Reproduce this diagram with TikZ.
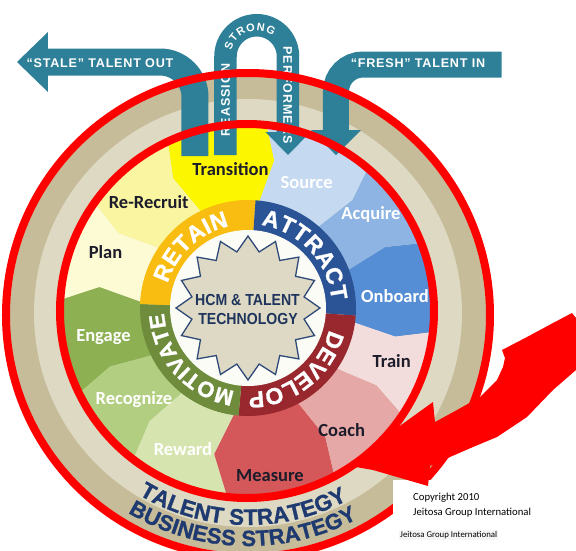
\documentclass[tikz,border=0pt]{standalone}
\usepackage{fontspec}
\setmainfont{Carlito}
\newfontfamily\plainsans{Liberation Sans}
\newfontfamily\heavysans{Liberation Sans Bold}[FakeBold=1.2]
\newfontfamily\widesans{Liberation Sans}[LetterSpace=6]
\newfontfamily\legsans{Liberation Sans}[LetterSpace=8]
\newfontfamily\narrowsans{Liberation Sans}[FakeStretch=0.88]
\usetikzlibrary{arrows.meta,shapes.geometric,decorations.text}

\definecolor{tandark}{RGB}{198,188,153}
\definecolor{tanlight}{RGB}{222,217,195}
\definecolor{navyband}{RGB}{30,58,112}
\definecolor{flowteal}{RGB}{46,128,152}
\definecolor{alarm}{RGB}{255,0,0}
\definecolor{inkdark}{RGB}{28,28,42}
\definecolor{corewhite}{RGB}{252,252,247}
\definecolor{starfill}{RGB}{221,217,196}
\definecolor{starline}{RGB}{47,74,120}
\definecolor{hubnavy}{RGB}{31,52,92}
\definecolor{retaincol}{RGB}{248,189,16}
\definecolor{attractcol}{RGB}{43,84,150}
\definecolor{developcol}{RGB}{152,40,46}
\definecolor{motivatecol}{RGB}{110,140,60}
\definecolor{transitioncol}{RGB}{252,246,0}
\definecolor{rerecruitcol}{RGB}{249,245,160}
\definecolor{plancol}{RGB}{253,251,212}
\definecolor{sourcecol}{RGB}{197,217,241}
\definecolor{acquirecol}{RGB}{141,180,226}
\definecolor{onboardcol}{RGB}{85,142,213}
\definecolor{traincol}{RGB}{242,221,220}
\definecolor{coachcol}{RGB}{230,168,166}
\definecolor{measurecol}{RGB}{212,88,90}
\definecolor{engagecol}{RGB}{140,176,82}
\definecolor{recognizecol}{RGB}{178,206,128}
\definecolor{rewardcol}{RGB}{214,229,176}

\begin{document}
\begin{tikzpicture}[x=1pt, y=1pt,
    petaltext/.style={font=\fontsize{18.5}{20}\selectfont\bfseries, text height=13pt, text depth=0pt, inner sep=0pt},
    darklabel/.style={petaltext, text=inkdark},
    lightlabel/.style={petaltext, text=white},
    hubtext/.style={font=\narrowsans\bfseries\fontsize{16}{16}\selectfont, text=hubnavy, text height=11.5pt, text depth=0pt, inner sep=0pt},
    flow/.style={draw=flowteal, line cap=butt},
    flowtext/.style={font=\widesans\bfseries\fontsize{12.6}{13}\selectfont, text=white, text height=9pt, text depth=0pt, inner sep=0pt},
    legtext/.style={font=\legsans\bfseries\fontsize{12.5}{12.5}\selectfont, text=white, text height=9pt, text depth=0pt, inner sep=0pt},
    redring/.style={draw=alarm, line width=8pt}]
    \useasboundingbox (-248,-240) rectangle (328,310);
    \fill[white] (-248,-240) rectangle (328,310);

    % centres of the wheel and of the rings round it
    \coordinate (hub) at (0,2);
    \coordinate (band) at (0,-3);
    \coordinate (rimin) at (-1,-1);
    \coordinate (rimout) at (0,-5);

    % Strategy bands
    \fill[tandark] (band) circle[radius=240];
    \fill[tanlight] (band) circle[radius=214];
    \begin{scope}[shift={(band)}]
        \path[decorate, decoration={text along path, text align={fit to path},
            text={|\heavysans\fontsize{22.5}{22}\selectfont\color{navyband}|TALENT STRATEGY}}]
            (-121:212) arc[start angle=-121, end angle=-62, radius=212];
        \path[decorate, decoration={text along path, text align={fit to path},
            text={|\heavysans\fontsize{22}{22}\selectfont\color{navyband}|BUSINESS STRATEGY}}]
            (-121:233) arc[start angle=-121, end angle=-62, radius=233];
    \end{scope}

    % Petals of the wheel
    \begin{scope}
        \clip (rimin) circle[radius=187];
        \begin{scope}[shift={(hub)}]
            \foreach \a/\b/\da/\db/\col in {-7/20/-4/4/onboardcol, 20/50/4/-4/acquirecol,
                50/85/-4/-5/sourcecol, 85/115/-5/5/transitioncol, 115/145/5/5/rerecruitcol,
                145/178/5/-6/plancol, 178/207/-6/-4/engagecol, 207/233/-4/-4/recognizecol,
                233/264/-4/-7/rewardcol, 264/297/-7/4/measurecol, 297/325/4/4/coachcol,
                325/353/4/-4/traincol}
                \fill[\col] (\a:100) -- (\a+\da:150) -- (\a:192)
                    arc[start angle=\a, end angle=\b, radius=192] -- (\b+\db:150) -- (\b:100) -- cycle;
        \end{scope}
    \end{scope}

    % Four stages round the core
    \begin{scope}[shift={(hub)}]
        \fill[retaincol] (0,0) -- (86:108) arc[start angle=86, end angle=178, radius=108] -- cycle;
        \fill[attractcol] (0,0) -- (-4:108) arc[start angle=-4, end angle=86, radius=108] -- cycle;
        \fill[developcol] (0,0) -- (-95:108) arc[start angle=-95, end angle=-4, radius=108] -- cycle;
        \fill[motivatecol] (0,0) -- (178:108) arc[start angle=178, end angle=265, radius=108] -- cycle;
        \fill[corewhite] (0,0) circle[radius=78];
        \path[decorate, decoration={text along path, text align={fit to path},
            text={|\heavysans\fontsize{23}{23}\selectfont\color{white}|RETAIN}}]
            (163:84) arc[start angle=163, end angle=103, radius=84];
        \path[decorate, decoration={text along path, text align={fit to path},
            text={|\heavysans\fontsize{23}{23}\selectfont\color{white}|ATTRACT}}]
            (81:84) arc[start angle=81, end angle=5, radius=84];
        \path[decorate, decoration={text along path, text align={fit to path},
            text={|\heavysans\fontsize{23}{23}\selectfont\color{white}|DEVELOP}}]
            (-15:84) arc[start angle=-15, end angle=-85, radius=84];
        \path[decorate, decoration={text along path, text align={fit to path},
            text={|\heavysans\fontsize{22}{22}\selectfont\color{white}|MOTIVATE}}]
            (-99:84) arc[start angle=-99, end angle=-174, radius=84];
    \end{scope}

    % Core
    \node[star, star points=16, star point ratio=1.26, minimum size=144pt, inner sep=0pt,
        draw=starline, fill=starfill, line width=1.3pt] (core) at (hub) {};
    \node[hubtext] (hcm) at (-0.5,10) {HCM \& TALENT};
    \node[hubtext] (tech) at (0,-8.3) {TECHNOLOGY};

    % Steps of each stage
    \node[darklabel] (transition) at (-17.5,141) {Transition};
    \node[darklabel] (rerecruit) at (-99.3,108.3) {Re-Recruit};
    \node[darklabel] (plan) at (-142.5,58.3) {Plan};
    \node[lightlabel] (source) at (58.7,128.3) {Source};
    \node[lightlabel] (acquire) at (123,96.7) {Acquire};
    \node[lightlabel] (onboard) at (147,14) {Onboard};
    \node[darklabel] (train) at (143.7,-51) {Train};
    \node[darklabel] (coach) at (93.7,-120) {Coach};
    \node[darklabel] (measure) at (22,-165) {Measure};
    \node[lightlabel] (reward) at (-65,-139.3) {Reward};
    \node[lightlabel] (recognize) at (-114,-88.3) {Recognize};
    \node[lightlabel] (engage) at (-144.5,-25) {Engage};

    % Talent flows in and out
    \coordinate (stalefoot) at (-53,154);
    \coordinate (staletip) at (-231,248);
    \draw[flow, line width=27pt, -{Triangle[length=31pt, width=60pt, line width=0pt]}]
        (stalefoot) -- (-53,213) arc[start angle=0, end angle=90, radius=35] -- (staletip);
    \node[flowtext] (staletext) at (-148,247.3) {“STALE” TALENT OUT};

    \coordinate (freshtail) at (253.7,245.5);
    \coordinate (freshtip) at (88,155);
    \draw[flow, line width=26pt, -{Triangle[length=25pt, width=50pt, line width=0pt]}]
        (freshtail) -- (115,245.5) arc[start angle=90, end angle=180, radius=27] -- (freshtip);
    \node[flowtext] (freshtext) at (170,247.3) {“FRESH” TALENT IN};

    \coordinate (loopfoot) at (-22.5,155);
    \coordinate (looptip) at (40,155);
    \draw[flow, line width=22.5pt, -{Triangle[length=23pt, width=45pt, line width=0pt]}]
        (loopfoot) -- (-22.5,253.5) arc[start angle=180, end angle=0, radius=31.25] -- (looptip);
    \node[legtext, rotate=90] (reassign) at (-22.5,210) {REASSIGN};
    \node[legtext, rotate=-90] (performers) at (40,215) {PERFORMERS};
    \path[decorate, decoration={text along path, text align={fit to path},
        text={|\plainsans\bfseries\fontsize{11}{11}\selectfont\color{white}|STRONG}}]
        (8.75,253.5) ++(167:26) arc[start angle=167, end angle=52, radius=26];

    % Red rims
    \draw[redring] (rimin) circle[radius=187];
    \draw[redring] (rimout) circle[radius=242];

    % Copyright
    \fill[white] (145,-170) rectangle (328,-240);
    \node[anchor=west, font=\fontsize{10.7}{12}\selectfont, text height=7.5pt, text depth=0pt, inner sep=0pt]
        (copyyear) at (165,-187) {Copyright 2010};
    \node[anchor=west, font=\fontsize{10.7}{12}\selectfont, text height=7.5pt, text depth=0pt, inner sep=0pt]
        (copyowner) at (165,-201.7) {Jeitosa Group International};
    \node[anchor=west, font=\fontsize{8.8}{10}\selectfont, fill=gray!8, inner sep=1pt]
        (owner) at (151,-225) {Jeitosa Group International};

    % Big red arrow
    \fill[alarm] (324,-3) -- (328,-8) -- (328,-60) -- (305,-80) -- (279,-107) -- (249,-127)
        -- (225,-137) -- (202,-147) -- (192,-152) -- (182,-156) -- (180,-176) -- (125,-160)
        -- (102,-156) -- (142,-123) -- (185,-92) -- (187,-112) -- (209,-100) -- (232,-87)
        -- (249,-70) -- (255,-57) -- (257,-48) -- (254,-40) -- (279,-27) -- (305,-13) -- cycle;
\end{tikzpicture}
\end{document}
